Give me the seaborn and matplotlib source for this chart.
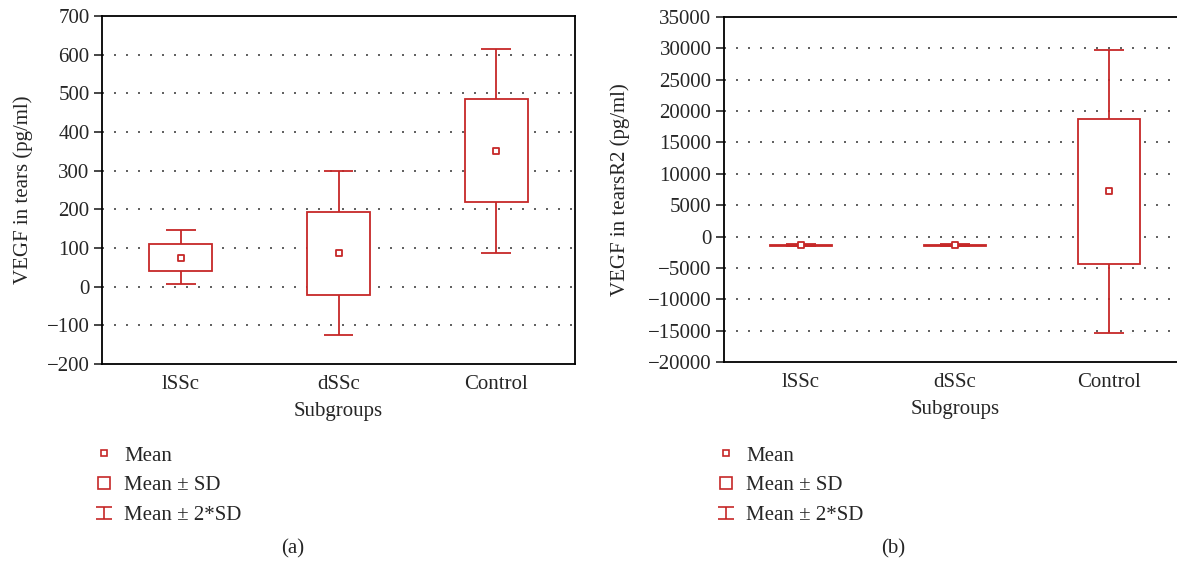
import matplotlib
matplotlib.use("Agg")
import matplotlib.pyplot as plt
from matplotlib.lines import Line2D
from matplotlib.path import Path
import seaborn as sns
import pandas as pd
import numpy as np

groups = ['lSSc', 'dSSc', 'Control']

# panel (a): VEGF in tears
tears_mean = [74, 86, 352]
tears_sd_low = [40, -21, 220]
tears_sd_high = [110, 194, 486]
tears_2sd_low = [7, -124, 88]
tears_2sd_high = [146, 299, 615]

# panel (b): VEGF in tearsR2
r2_mean = [-1400, -1400, 7200]
r2_sd_low = [-1480, -1480, -4400]
r2_sd_high = [-1320, -1320, 18700]
r2_2sd_low = [-1560, -1560, -15400]
r2_2sd_high = [-1240, -1240, 29700]

red = '#C62828'
fs = 15


def plot_panel(ax, mean, sd_low, sd_high, sd2_low, sd2_high, ylabel, yticks, ylim, label_x):
    df = pd.DataFrame({'group': groups, 'pos': np.arange(len(groups)),
                       'mean': mean, 'sd_low': sd_low, 'sd_high': sd_high,
                       'sd2_low': sd2_low, 'sd2_high': sd2_high})

    # dotted grid
    for t in yticks[1:-1]:
        ax.axhline(t, color='#444444', lw=1.2, ls=(0, (1.2, 6)), zorder=0)

    # mean +- 2*SD whiskers + caps
    ax.vlines(df['pos'], df['sd2_low'], df['sd_low'], color=red, lw=1.3, zorder=2)
    ax.vlines(df['pos'], df['sd_high'], df['sd2_high'], color=red, lw=1.3, zorder=2)
    ax.hlines(df['sd2_low'], df['pos'] - 0.095, df['pos'] + 0.095, color=red, lw=1.3, zorder=2)
    ax.hlines(df['sd2_high'], df['pos'] - 0.095, df['pos'] + 0.095, color=red, lw=1.3, zorder=2)

    # mean +- SD box
    ax.bar(df['pos'], df['sd_high'] - df['sd_low'], bottom=df['sd_low'], width=0.4,
           facecolor='white', edgecolor=red, linewidth=1.3, zorder=3)

    # mean
    sns.scatterplot(data=df, x='pos', y='mean', ax=ax, marker='s', s=20,
                    facecolor='white', edgecolor=red, linewidth=1.3, zorder=4)

    ax.set_xlim(-0.5, 2.5)
    ax.set_ylim(*ylim)
    ax.set_yticks(yticks)
    ax.set_xticks(df['pos'])
    ax.set_xticklabels(groups)
    ax.tick_params(axis='x', length=0, pad=8, labelsize=fs)
    ax.tick_params(axis='y', length=6, width=1.2, pad=3, labelsize=fs, direction='out')
    ax.set_xlabel('Subgroups', fontsize=fs, labelpad=6)
    ax.set_ylabel(ylabel, fontsize=fs)
    ax.yaxis.set_label_coords(label_x, 0.5)
    for sp in ax.spines.values():
        sp.set_visible(True)
        sp.set_color('black')
        sp.set_linewidth(1.3)


def add_legend(fig, x, y):
    ibar = Path([(-1, -0.8), (1, -0.8), (0, -0.8), (0, 0.8), (-1, 0.8), (1, 0.8)],
                [Path.MOVETO, Path.LINETO, Path.MOVETO, Path.LINETO, Path.MOVETO, Path.LINETO])
    handles = [
        Line2D([], [], ls='none', marker='s', ms=4.5, mfc='white', mec=red, mew=1.2),
        Line2D([], [], ls='none', marker='s', ms=8, mfc='white', mec=red, mew=1.2),
        Line2D([], [], ls='none', marker=ibar, ms=11, mfc='none', mec=red, mew=1.2),
    ]
    labels = ['Mean', 'Mean \u00b1 SD', 'Mean \u00b1 2*SD']
    fig.legend(handles, labels, loc='upper left', bbox_to_anchor=(x, y),
               frameon=False, fontsize=fs, handlelength=1.0, handletextpad=0.46,
               labelspacing=0.49, borderpad=0, borderaxespad=0)


def main():
    sns.set_style("ticks")
    plt.rcParams['font.family'] = ['Liberation Serif', 'DejaVu Serif']
    plt.rcParams['axes.unicode_minus'] = True

    W, H = 1177, 565
    fig = plt.figure(figsize=(W / 100, H / 100), dpi=100)

    ax1 = fig.add_axes([102 / W, 1 - 364 / H, 473 / W, 348 / H])
    plot_panel(ax1, tears_mean, tears_sd_low, tears_sd_high, tears_2sd_low, tears_2sd_high,
               'VEGF in tears (pg/ml)', list(range(-200, 701, 100)), (-200, 700), -0.146)

    ax2 = fig.add_axes([724 / W, 1 - 362 / H, 462 / W, 345 / H])
    plot_panel(ax2, r2_mean, r2_sd_low, r2_sd_high, r2_2sd_low, r2_2sd_high,
               'VEGF in tearsR2 (pg/ml)', list(range(-20000, 35001, 5000)), (-20000, 35000), -0.203)

    add_legend(fig, 93.6 / W, 1 - 446 / H)
    add_legend(fig, 715.6 / W, 1 - 446 / H)

    fig.text(293 / W, 1 - 549 / H, '(a)', ha='center', va='center', fontsize=fs)
    fig.text(893 / W, 1 - 549 / H, '(b)', ha='center', va='center', fontsize=fs)

    plt.savefig('out.png', dpi=100)


if __name__ == "__main__":
    main()
